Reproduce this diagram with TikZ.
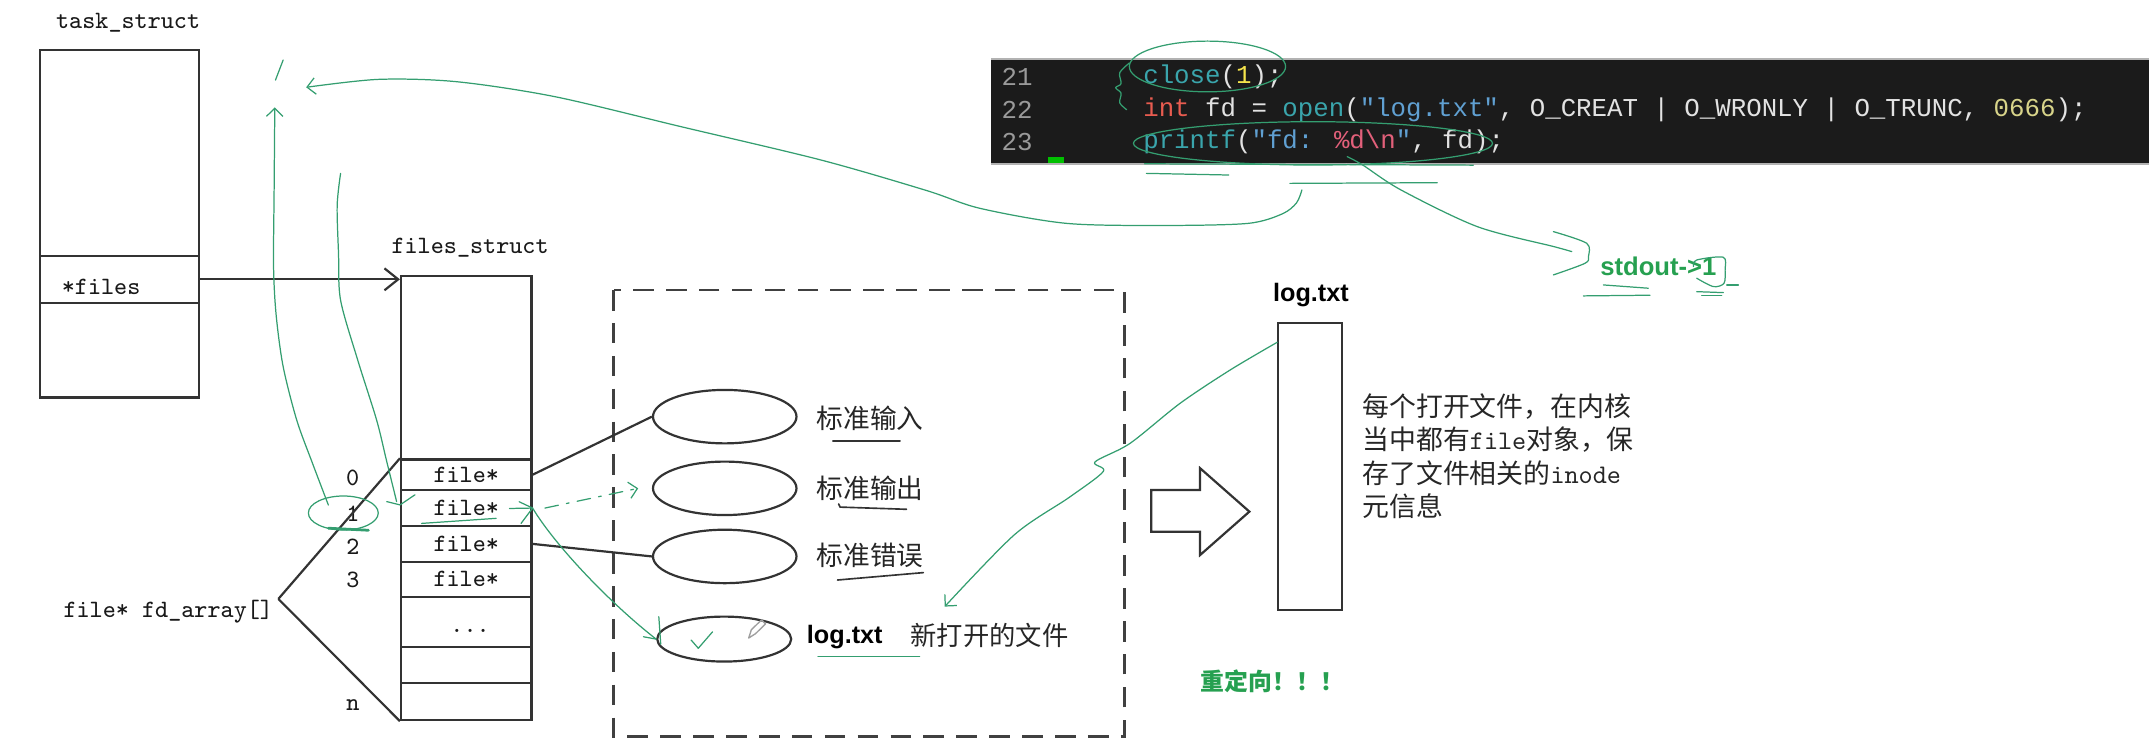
\documentclass[tikz,border=0pt]{standalone}
\usepackage{fontspec}
\usetikzlibrary{arrows.meta,shapes.geometric}
\newfontfamily\cjk{Noto Sans CJK SC}
\newfontfamily\codefont{Liberation Mono}
\newfontfamily\arialfont{Liberation Sans}
\definecolor{linegray}{HTML}{333333}
\definecolor{inkgreen}{RGB}{52,158,112}
\definecolor{txtgreen}{RGB}{38,160,80}
\definecolor{codebg}{HTML}{1B1B1B}
\definecolor{cwhite}{HTML}{E2E2E2}
\definecolor{cgray}{HTML}{9A9A9A}
\definecolor{cteal}{RGB}{58,165,172}
\definecolor{cred}{RGB}{232,92,80}
\definecolor{cyel}{RGB}{245,228,76}
\definecolor{cyel2}{RGB}{216,212,138}
\definecolor{cblue}{RGB}{96,160,210}
\definecolor{cpink}{RGB}{226,96,122}
\tikzset{
  blk/.style={draw=linegray, line width=0.8pt},
  tcell/.style={blk, rectangle, inner sep=0pt, minimum width=57.95pt},
  fcell/.style={blk, rectangle, inner sep=0pt, minimum width=47.6pt, font=\fontsize{9.1}{11}\selectfont\ttfamily, text=black!90},
  oval/.style={blk, ellipse, inner sep=0pt},
  mono/.style={font=\fontsize{9.1}{11}\selectfont\ttfamily, inner sep=0pt, text=black!90},
  cjklabel/.style={font=\fontsize{9.75}{12}\selectfont\cjk, inner sep=0pt, anchor=west, text=black!85},
  infotext/.style={font=\fontsize{9.8}{12}\selectfont\cjk, inner sep=0pt, anchor=west, text=black!85},
  boldsans/.style={font=\fontsize{9.2}{11}\selectfont\arialfont\bfseries, inner sep=0pt},
  codeline/.style={font=\fontsize{9.4}{11}\selectfont\codefont, inner sep=0pt, anchor=west, text=cwhite},
  lineno/.style={font=\fontsize{9.4}{11}\selectfont\codefont, inner sep=0pt, anchor=west, text=cgray},
  ink/.style={draw=inkgreen, line width=0.45pt, line cap=round, line join=round},
  inktip/.style={-{Straight Barb[length=3pt,width=6pt]}},
  uline/.style={draw=linegray, line width=0.6pt, line cap=round},
}
\begin{document}
\begin{tikzpicture}[x=0.5pt,y=-0.5pt]
\useasboundingbox (0,0) rectangle (1568,551);

% ---------------- code panel ----------------
\node[fill=codebg, inner sep=0pt, minimum width=422.5pt, minimum height=38pt, anchor=north west] (panel) at (723,43) {};
\draw[draw=gray!60, line width=0.8pt] (panel.north west) -- (panel.north east);
\draw[draw=gray!60, line width=0.8pt] (panel.south west) -- (panel.south east);
\node[lineno] (n21) at (730.5,56) {21};
\node[lineno] (n22) at (730.5,80.3) {22};
\node[lineno] (n23) at (730.5,103.4) {23};
\node[codeline] (c21) at (833.8,56) {{\color{cteal}close}({\color{cyel}1});};
\node[codeline] (c22) at (833.8,80.3) {{\color{cred}int} fd = {\color{cteal}open}({\color{cblue}"log.txt"}, O\_CREAT | O\_WRONLY | O\_TRUNC, {\color{cyel2}0666});};
\node[codeline] (c23) at (833.8,103.4) {{\color{cteal}printf}({\color{cblue}"fd: }{\color{cpink}\%d\textbackslash n}{\color{cblue}"}, fd);};
\fill[green!75!black] (764.8,114.3) rectangle (776.5,119.2);

% ---------------- task_struct ----------------
\node[mono] (tslabel) at (93.5,16.5) {task\_struct};
\node[tcell, minimum height=75.15pt] (tsTop) at (87.25,111.65) {};
\node[tcell, minimum height=17pt] (tsFiles) at (87.25,203.8) {};
\node[tcell, minimum height=34.6pt] (tsBot) at (87.25,255.4) {};
\node[mono, anchor=west] (filesptr) at (44.7,209.6) {*files};

% ---------------- files_struct ----------------
\node[mono] (fslabel) at (343,181) {files\_struct};
\node[fcell, minimum height=66.9pt] (fsTop) at (340.2,268.3) {};
\node[fcell, minimum height=11.2pt] (r0) at (340.2,346.4) {file*};
\node[fcell, minimum height=13.1pt] (r1) at (340.2,370.7) {file*};
\node[fcell, minimum height=13.05pt] (r2) at (340.2,396.85) {file*};
\node[fcell, minimum height=12.75pt] (r3) at (340.2,422.65) {file*};
\node[fcell, minimum height=18.25pt] (rdots) at (340.2,453.65) {};
\node[fcell, minimum height=13.15pt] (r5) at (340.2,485.05) {};
\node[fcell, minimum height=13.6pt] (rn) at (340.2,511.8) {};
\node[mono] (dots) at (343,460) {...};

\draw[blk, -{Straight Barb[length=5pt,width=8pt]}] (tsFiles.east) -- (tsFiles.east -| fsTop.west);

% indices
\node[mono] (i0) at (257.3,349) {0};
\node[mono] (i1) at (257.5,374.6) {1};
\node[mono] (i2) at (257.5,398.9) {2};
\node[mono] (i3) at (257.5,423.2) {3};
\node[mono] (in) at (257.5,514.4) {n};

% fd_array bracket
\node[mono] (fdarr) at (122.8,446.3) {file* fd\_array[]};
\coordinate (brk) at (203.1,437);
\draw[blk] (brk) -- (r0.north west);
\draw[blk] (brk) -- (rn.south west);

% ---------------- dashed region ----------------
\draw[draw=black!75, line width=1pt, dash pattern=on 7.5pt off 4.5pt] (447.7,211.6) rectangle (820.4,537.5);
\node[oval, minimum width=52.35pt, minimum height=19.5pt] (e0) at (528.8,304) {};
\node[oval, minimum width=52.35pt, minimum height=19.5pt] (e1) at (528.8,356.3) {};
\node[oval, minimum width=52.35pt, minimum height=19.5pt] (e2) at (528.8,406) {};
\node[oval, minimum width=48.9pt, minimum height=16.4pt] (elog) at (528.4,466.3) {};
\draw[blk] (r0.east) -- (e0.west);
\draw[blk] (r2.east) -- (e2.west);

\node[cjklabel] (l0) at (595.5,305.2) {标准输入};
\node[cjklabel] (l1) at (595.5,356.3) {标准输出};
\node[cjklabel] (l2) at (595.5,405) {标准错误};
\node[boldsans, anchor=west, text=black] (llog) at (588.4,464.5) {log.txt};
\node[cjklabel, font=\fontsize{9.6}{12}\selectfont\cjk] (lnew) at (664,463.3) {新打开的文件};
\draw[uline] (607.7,321.8) -- (656.7,321.8);
\draw[uline] (611.9,367.7) -- (613,370) -- (661.4,371.6);
\draw[uline] (611.1,423.2) -- (673.7,417.8);

% pencil cursor
\draw[draw=gray!75, line width=0.5pt, line join=round] (546.3,465.5) -- (548.2,459.5) -- (555.6,452.3) -- (558.6,455.2) -- (551.2,462.4) -- cycle;

% ---------------- right side ----------------
\draw[blk] (840,357.5) -- (875.6,357.5) -- (875.6,341.6) -- (911.6,373.3) -- (875.6,405) -- (875.6,388) -- (840,388) -- cycle;
\node[blk, rectangle, inner sep=0pt, minimum width=23.15pt, minimum height=104.75pt] (logbox) at (955.9,340.25) {};
\node[boldsans, text=black] (logboxlabel) at (956.5,215.2) {log.txt};
\node[infotext] (info1) at (993.7,296.7) {每个打开文件，在内核};
\node[infotext] (info2) at (993.7,321) {当中都有{\ttfamily file}对象，保};
\node[infotext] (info3) at (993.7,345.3) {存了文件相关的{\ttfamily inode}};
\node[infotext] (info4) at (993.7,369.7) {元信息};

\node[font=\fontsize{9.35}{11}\selectfont\arialfont\bfseries, text=txtgreen, inner sep=0pt, anchor=west] (stdout) at (1167.3,194.6) {stdout->1};
\node[font=\fontsize{8.7}{10}\selectfont\cjk\bfseries, text=txtgreen, inner sep=0pt, anchor=west] (redir) at (875.8,497.3) {重定向！！！};

% ---------------- green annotations ----------------
\draw[ink] (881,48.5) ellipse [x radius=28.5pt, y radius=9.25pt];
\draw[ink] plot[smooth] coordinates {(824,46) (817,53) (818,61) (814,64) (818,68) (817,75) (822,80)};
\draw[ink] (958,104.6) ellipse [x radius=65.5pt, y radius=7.9pt];
\draw[ink] (835,119.5) -- (1075,120.5);
\draw[ink] (836.5,126.5) -- (896.6,127.7);
\draw[ink] (941.2,133.8) -- (1048.7,133.3);

\coordinate (aStart) at (949.9,138.6);
\coordinate (aEnd) at (223.4,63.7);
\draw[ink, inktip] plot[smooth] coordinates {(aStart) (946,148) (935.7,156) (910.5,163) (850,164.5) (778.4,163) (715,152) (676,139) (599.2,116.8) (496.8,92.4) (404.7,70.5) (333,59.6) (276.4,57.9) (aEnd)};
\draw[ink] (206.6,43.8) -- (201,58.4);

\coordinate (up1) at (200.5,78.3);
\draw[ink, inktip] plot[smooth] coordinates {(239.6,368.5) (228,338) (216.5,306.5) (206.6,267.5) (201.5,230) (199.6,194.6) (200,140) (up1)};
\draw[ink] plot[smooth] coordinates {(248.5,126.5) (246,150) (247,185) (248.5,219) (261,262.7) (274.8,306.5) (282,336) (289.4,366)};
\draw[ink] (282.2,366) -- (291.9,368.4) -- (302.8,361);
\draw[ink] (250.5,374.3) ellipse [x radius=12.75pt, y radius=6.2pt];
\draw[ink, line width=1pt] (239.6,385.4) -- (268.8,386.9);

\draw[ink] (307.6,381.9) -- (362,378.2);
\draw[ink] (371.8,371) -- (r1.east);
\draw[ink] (378.8,366.1) -- (r1.east) -- (380.2,381.9);
\draw[ink, dash pattern=on 5pt off 3pt on 1pt off 3pt, inktip] ([xshift=4.5pt]r1.east) -- ([xshift=-5pt]e1.west);
\draw[ink] (r1.east) .. controls (405,398) and (445,440) .. (elog.west);
\draw[ink] (480.7,450) -- (482.1,470);
\draw[ink] (469.5,464.6) -- (elog.west);
\draw[ink] (504.3,467) -- (509.5,473) -- (519.9,461);
\draw[ink] (596.8,479.1) -- (671,479.1);

\coordinate (lEnd) at (689.3,442.6);
\draw[ink, inktip] plot[smooth, tension=0.5] coordinates {([yshift=-7.5pt]logbox.north west) (897.5,270) (861,294.3) (824.5,323.5) (799,337) (805,344) (780,363) (740,390.3) (lEnd)};

\draw[ink] plot[smooth] coordinates {(983,114.3) (994.3,120.4) (1022.2,138.6) (1078,165.4) (1134,180) (1146.8,183.6)};
\draw[ink] plot[smooth] coordinates {(1133.4,169) (1157.7,177.5) (1159,187.2) (1156.5,192.1) (1133.4,200.6)};
\draw[ink] plot[smooth] coordinates {(1235.6,194.5) (1238,189.7) (1257.4,187.7) (1258.7,197) (1257.9,206.7) (1250.1,209.1) (1238,203)};
\draw[ink] (1169.9,207.9) -- (1202.7,210.3);
\draw[ink] (1155.3,215.9) -- (1203.9,215.4);
\draw[ink] (1238,212.8) -- (1257.4,213.5);
\draw[ink] (1241.6,215.5) -- (1256.2,215.5);
\draw[ink] (1259.9,207.9) -- (1268.4,207.9);
\end{tikzpicture}
\end{document}
